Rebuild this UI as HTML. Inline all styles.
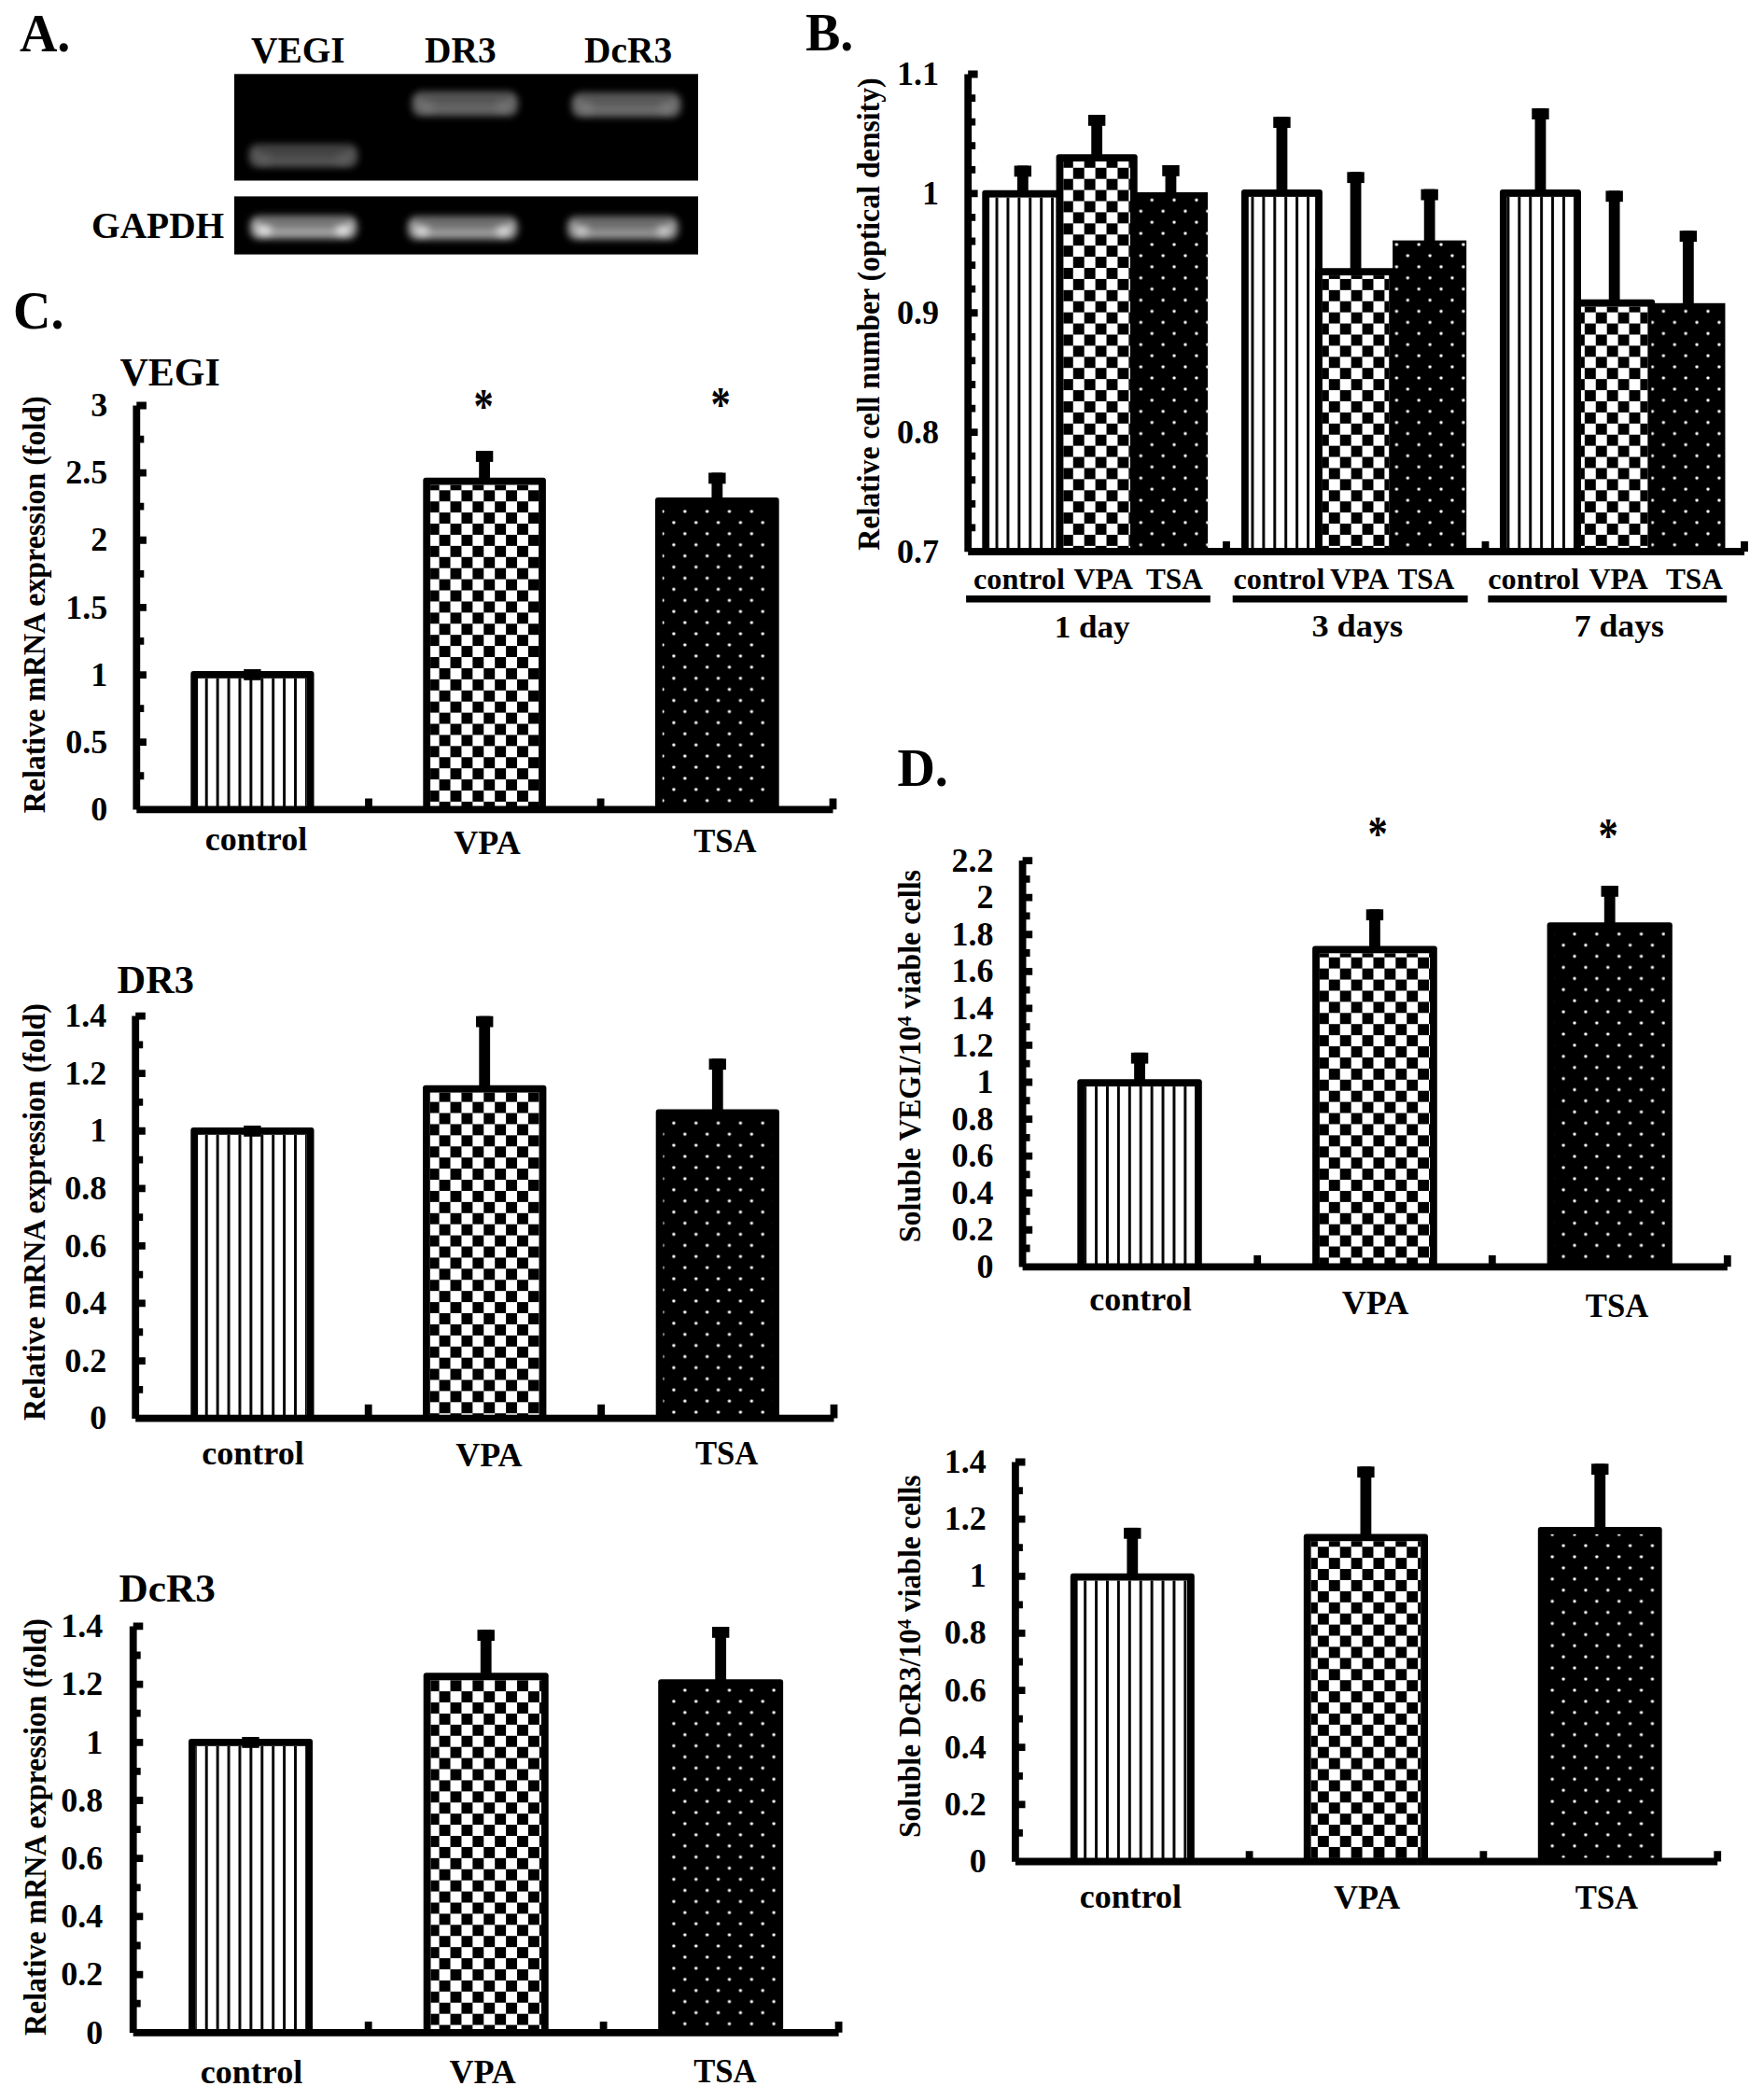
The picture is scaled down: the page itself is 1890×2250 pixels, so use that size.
<!DOCTYPE html>
<html lang="en"><head><meta charset="utf-8"><title>Figure</title>
<style>html,body{margin:0;padding:0;background:#fff}svg{display:block}text{font-family:"Liberation Serif","Times New Roman",serif;font-weight:bold;fill:#000}</style></head><body>
<svg width="1890" height="2250" viewBox="0 0 1890 2250">
<defs>
<pattern id="ps" patternUnits="userSpaceOnUse" x="5.38" y="0" width="11.91" height="40"><rect x="0" y="0" width="2.9" height="40" fill="#000"/></pattern>
<pattern id="ps3" patternUnits="userSpaceOnUse" x="5.93" y="0" width="11.91" height="40"><rect x="0" y="0" width="2.9" height="40" fill="#000"/></pattern>
<pattern id="ps2" patternUnits="userSpaceOnUse" x="6.58" y="0" width="11.91" height="40"><rect x="0" y="0" width="2.9" height="40" fill="#000"/></pattern>
<pattern id="pc" patternUnits="userSpaceOnUse" x="5.93" y="1.04" width="23.83" height="23.83"><rect x="11.91" y="0" width="11.91" height="11.91" fill="#000"/><rect x="0" y="11.91" width="11.91" height="11.91" fill="#000"/></pattern>
<pattern id="pd" patternUnits="userSpaceOnUse" x="1.04" y="5.84" width="23.83" height="23.83"><rect x="4.46" y="4.46" width="3" height="3" rx="0.7" fill="#fff"/><rect x="16.37" y="16.37" width="3" height="3" rx="0.7" fill="#fff"/></pattern>
<filter id="b3" x="-20%" y="-80%" width="140%" height="260%"><feGaussianBlur stdDeviation="3.5"/></filter>
<filter id="b5" x="-30%" y="-100%" width="160%" height="300%"><feGaussianBlur stdDeviation="4"/></filter>
</defs>
<rect width="1890" height="2250" fill="#fff"/>
<text x="20.9" y="55.1" font-size="56">A.</text>
<text x="269" y="66.9" font-size="39.4">VEGI</text>
<text x="455" y="66.9" font-size="39.4">DR3</text>
<text x="626" y="66.9" font-size="39.4">DcR3</text>
<text x="98" y="255.1" font-size="39.4">GAPDH</text>
<rect x="251" y="79.3" width="497" height="114.2" fill="#000"/>
<rect x="251" y="210.4" width="497" height="62.2" fill="#000"/>
<g filter="url(#b3)">
<rect x="266" y="154" width="118" height="26" rx="10.4" fill="#424242"/>
<path d="M274 163Q274 172 289 172H361Q376 172 376 163" fill="none" stroke="#565656" stroke-width="7" stroke-linecap="round"/>
</g><g filter="url(#b5)">
<ellipse cx="282" cy="170" rx="8" ry="4.5" fill="#5e5e5e"/>
<ellipse cx="368" cy="170" rx="8" ry="4.5" fill="#5e5e5e"/>
</g>
<g filter="url(#b3)">
<rect x="441" y="97.8" width="114.5" height="27" rx="10.8" fill="#545454"/>
<path d="M449 107.3Q449 116.3 464 116.3H532.5Q547.5 116.3 547.5 107.3" fill="none" stroke="#6a6a6a" stroke-width="7" stroke-linecap="round"/>
</g><g filter="url(#b5)">
<ellipse cx="457" cy="114.3" rx="8" ry="4.5" fill="#767676"/>
<ellipse cx="539.5" cy="114.3" rx="8" ry="4.5" fill="#767676"/>
</g>
<g filter="url(#b3)">
<rect x="612" y="99" width="118" height="27" rx="10.8" fill="#585858"/>
<path d="M620 108.5Q620 117.5 635 117.5H707Q722 117.5 722 108.5" fill="none" stroke="#6e6e6e" stroke-width="7" stroke-linecap="round"/>
</g><g filter="url(#b5)">
<ellipse cx="628" cy="115.5" rx="8" ry="4.5" fill="#7c7c7c"/>
<ellipse cx="714" cy="115.5" rx="8" ry="4.5" fill="#7c7c7c"/>
</g>
<g filter="url(#b3)">
<rect x="267" y="230.7" width="116.5" height="26" rx="10.4" fill="#767676"/>
<path d="M275 239.7Q275 248.7 290 248.7H360.5Q375.5 248.7 375.5 239.7" fill="none" stroke="#a8a8a8" stroke-width="7" stroke-linecap="round"/>
</g><g filter="url(#b5)">
<ellipse cx="283" cy="246.7" rx="8" ry="4.5" fill="#f4f4f4"/>
<ellipse cx="367.5" cy="246.7" rx="8" ry="4.5" fill="#f4f4f4"/>
</g>
<g filter="url(#b3)">
<rect x="436" y="231.5" width="119.5" height="26" rx="10.4" fill="#707070"/>
<path d="M444 240.5Q444 249.5 459 249.5H532.5Q547.5 249.5 547.5 240.5" fill="none" stroke="#a0a0a0" stroke-width="7" stroke-linecap="round"/>
</g><g filter="url(#b5)">
<ellipse cx="452" cy="247.5" rx="8" ry="4.5" fill="#e8e8e8"/>
<ellipse cx="539.5" cy="247.5" rx="8" ry="4.5" fill="#e8e8e8"/>
</g>
<g filter="url(#b3)">
<rect x="607" y="231.5" width="120.5" height="26" rx="10.4" fill="#6c6c6c"/>
<path d="M615 240.5Q615 249.5 630 249.5H704.5Q719.5 249.5 719.5 240.5" fill="none" stroke="#989898" stroke-width="7" stroke-linecap="round"/>
</g><g filter="url(#b5)">
<ellipse cx="623" cy="247.5" rx="8" ry="4.5" fill="#d4d4d4"/>
<ellipse cx="711.5" cy="247.5" rx="8" ry="4.5" fill="#d4d4d4"/>
</g>
<text x="14.1" y="352.2" font-size="56">C.</text>
<rect x="204.3" y="719" width="132.2" height="148.3" rx="3" fill="#000"/>
<rect x="212.1" y="726.8" width="116.6" height="140.5" fill="#fff"/>
<rect x="212.1" y="726.8" width="116.6" height="140.5" fill="url(#ps)"/>
<rect x="261.2" y="717" width="18.4" height="11.8" fill="#000"/>
<rect x="264.5" y="717" width="11.8" height="4" fill="#000"/>
<rect x="453.3" y="511.7" width="131.6" height="355.6" rx="3" fill="#000"/>
<rect x="461.1" y="519.5" width="116" height="347.8" fill="#fff"/>
<rect x="461.1" y="519.5" width="116" height="347.8" fill="url(#pc)"/>
<rect x="509.9" y="483.1" width="18.4" height="11.8" fill="#000"/>
<rect x="513.2" y="483.1" width="11.8" height="30.6" fill="#000"/>
<rect x="702" y="533.1" width="132.7" height="334.2" rx="3" fill="#000"/>
<rect x="709.8" y="540.9" width="117.1" height="326.4" fill="url(#pd)"/>
<rect x="759.15" y="506.5" width="18.4" height="11.8" fill="#000"/>
<rect x="762.45" y="506.5" width="11.8" height="28.6" fill="#000"/>
<path d="M146.3 434.5V867.6 M146.3 867.3H892.5" stroke="#000" stroke-width="7.8" fill="none"/>
<path d="M146.3 434.5h10.6 M146.3 470.57h8 M146.3 506.63h10.6 M146.3 542.7h8 M146.3 578.77h10.6 M146.3 614.83h8 M146.3 650.9h10.6 M146.3 686.97h8 M146.3 723.03h10.6 M146.3 759.1h8 M146.3 795.17h10.6 M146.3 831.23h8 M395 867.3v-11.7 M643.6 867.3v-11.7 M892.5 867.3v-11.7" stroke="#000" stroke-width="7.8" fill="none"/>
<text transform="translate(115.3 446.2) scale(1.03 1)" font-size="35" text-anchor="end">3</text>
<text transform="translate(115.3 518.33) scale(1.03 1)" font-size="35" text-anchor="end">2.5</text>
<text transform="translate(115.3 590.47) scale(1.03 1)" font-size="35" text-anchor="end">2</text>
<text transform="translate(115.3 662.6) scale(1.03 1)" font-size="35" text-anchor="end">1.5</text>
<text transform="translate(115.3 734.73) scale(1.03 1)" font-size="35" text-anchor="end">1</text>
<text transform="translate(115.3 806.87) scale(1.03 1)" font-size="35" text-anchor="end">0.5</text>
<text transform="translate(115.3 879) scale(1.03 1)" font-size="35" text-anchor="end">0</text>
<text x="128.5" y="413.4" font-size="42">VEGI</text>
<text transform="translate(274.5 910.8) scale(1.03 1)" font-size="35" text-anchor="middle">control</text>
<text transform="translate(522 915.4) scale(1.03 1)" font-size="35" text-anchor="middle">VPA</text>
<text transform="translate(776.9 913.4) scale(0.99 1)" font-size="35" text-anchor="middle">TSA</text>
<text transform="translate(48.3 871.3) rotate(-90) scale(1 1.04)" font-size="32" textLength="447" lengthAdjust="spacingAndGlyphs">Relative mRNA expression (fold)</text>
<text transform="translate(518 428.6) scale(1 1.23)" y="19.66" font-size="42.5" text-anchor="middle">*</text>
<text transform="translate(772 427.2) scale(1 1.23)" y="19.66" font-size="42.5" text-anchor="middle">*</text>
<rect x="204.3" y="1208" width="132.2" height="311.6" rx="3" fill="#000"/>
<rect x="212.1" y="1215.8" width="116.6" height="303.8" fill="#fff"/>
<rect x="212.1" y="1215.8" width="116.6" height="303.8" fill="url(#ps)"/>
<rect x="261.2" y="1206" width="18.4" height="11.8" fill="#000"/>
<rect x="264.5" y="1206" width="11.8" height="4" fill="#000"/>
<rect x="453" y="1162.8" width="132.4" height="356.8" rx="3" fill="#000"/>
<rect x="460.8" y="1170.6" width="116.8" height="349" fill="#fff"/>
<rect x="460.8" y="1170.6" width="116.8" height="349" fill="url(#pc)"/>
<rect x="510" y="1088.7" width="18.4" height="11.8" fill="#000"/>
<rect x="513.3" y="1088.7" width="11.8" height="76.1" fill="#000"/>
<rect x="702.7" y="1188.5" width="132.2" height="331.1" rx="3" fill="#000"/>
<rect x="710.5" y="1196.3" width="116.6" height="323.3" fill="url(#pd)"/>
<rect x="759.6" y="1134.3" width="18.4" height="11.8" fill="#000"/>
<rect x="762.9" y="1134.3" width="11.8" height="56.2" fill="#000"/>
<path d="M145.2 1088.6V1519.9 M145.2 1519.6H893.5" stroke="#000" stroke-width="7.8" fill="none"/>
<path d="M145.2 1088.6h10.6 M145.2 1119.39h8 M145.2 1150.17h10.6 M145.2 1180.96h8 M145.2 1211.74h10.6 M145.2 1242.53h8 M145.2 1273.31h10.6 M145.2 1304.1h8 M145.2 1334.89h10.6 M145.2 1365.67h8 M145.2 1396.46h10.6 M145.2 1427.24h8 M145.2 1458.03h10.6 M145.2 1488.81h8 M394.7 1519.6v-14.8 M644.1 1519.6v-14.8 M893.5 1519.6v-14.8" stroke="#000" stroke-width="7.8" fill="none"/>
<text transform="translate(114.2 1100.3) scale(1.03 1)" font-size="35" text-anchor="end">1.4</text>
<text transform="translate(114.2 1161.87) scale(1.03 1)" font-size="35" text-anchor="end">1.2</text>
<text transform="translate(114.2 1223.44) scale(1.03 1)" font-size="35" text-anchor="end">1</text>
<text transform="translate(114.2 1285.01) scale(1.03 1)" font-size="35" text-anchor="end">0.8</text>
<text transform="translate(114.2 1346.59) scale(1.03 1)" font-size="35" text-anchor="end">0.6</text>
<text transform="translate(114.2 1408.16) scale(1.03 1)" font-size="35" text-anchor="end">0.4</text>
<text transform="translate(114.2 1469.73) scale(1.03 1)" font-size="35" text-anchor="end">0.2</text>
<text transform="translate(114.2 1531.3) scale(1.03 1)" font-size="35" text-anchor="end">0</text>
<text transform="translate(125.5 1063.6) scale(1.01 1)" font-size="42">DR3</text>
<text transform="translate(271 1568.8) scale(1.03 1)" font-size="35" text-anchor="middle">control</text>
<text transform="translate(523.9 1570.6) scale(1.03 1)" font-size="35" text-anchor="middle">VPA</text>
<text transform="translate(778.6 1569.4) scale(0.99 1)" font-size="35" text-anchor="middle">TSA</text>
<text transform="translate(48.3 1522) rotate(-90) scale(1 1.04)" font-size="32" textLength="447" lengthAdjust="spacingAndGlyphs">Relative mRNA expression (fold)</text>
<rect x="202" y="1863" width="133" height="314.8" rx="3" fill="#000"/>
<rect x="209.8" y="1870.8" width="117.4" height="307" fill="#fff"/>
<rect x="209.8" y="1870.8" width="117.4" height="307" fill="url(#ps)"/>
<rect x="259.3" y="1861" width="18.4" height="11.8" fill="#000"/>
<rect x="262.6" y="1861" width="11.8" height="4" fill="#000"/>
<rect x="453.7" y="1792.3" width="134" height="385.5" rx="3" fill="#000"/>
<rect x="461.5" y="1800.1" width="118.4" height="377.7" fill="#fff"/>
<rect x="461.5" y="1800.1" width="118.4" height="377.7" fill="url(#pc)"/>
<rect x="511.5" y="1746.2" width="18.4" height="11.8" fill="#000"/>
<rect x="514.8" y="1746.2" width="11.8" height="48.1" fill="#000"/>
<rect x="705.2" y="1799.3" width="133.9" height="378.5" rx="3" fill="#000"/>
<rect x="713" y="1807.1" width="118.3" height="370.7" fill="url(#pd)"/>
<rect x="762.95" y="1743" width="18.4" height="11.8" fill="#000"/>
<rect x="766.25" y="1743" width="11.8" height="58.3" fill="#000"/>
<path d="M142.7 1742.4V2178.1 M142.7 2177.8H898.6" stroke="#000" stroke-width="7.8" fill="none"/>
<path d="M142.7 1742.4h10.6 M142.7 1773.5h8 M142.7 1804.6h10.6 M142.7 1835.7h8 M142.7 1866.8h10.6 M142.7 1897.9h8 M142.7 1929h10.6 M142.7 1960.1h8 M142.7 1991.2h10.6 M142.7 2022.3h8 M142.7 2053.4h10.6 M142.7 2084.5h8 M142.7 2115.6h10.6 M142.7 2146.7h8 M394.7 2177.8v-11.7 M646.6 2177.8v-11.7 M898.6 2177.8v-11.7" stroke="#000" stroke-width="7.8" fill="none"/>
<text transform="translate(110.2 1754.1) scale(1.03 1)" font-size="35" text-anchor="end">1.4</text>
<text transform="translate(110.2 1816.3) scale(1.03 1)" font-size="35" text-anchor="end">1.2</text>
<text transform="translate(110.2 1878.5) scale(1.03 1)" font-size="35" text-anchor="end">1</text>
<text transform="translate(110.2 1940.7) scale(1.03 1)" font-size="35" text-anchor="end">0.8</text>
<text transform="translate(110.2 2002.9) scale(1.03 1)" font-size="35" text-anchor="end">0.6</text>
<text transform="translate(110.2 2065.1) scale(1.03 1)" font-size="35" text-anchor="end">0.4</text>
<text transform="translate(110.2 2127.3) scale(1.03 1)" font-size="35" text-anchor="end">0.2</text>
<text transform="translate(110.2 2189.5) scale(1.03 1)" font-size="35" text-anchor="end">0</text>
<text transform="translate(127.5 1716.4) scale(1.03 1)" font-size="42">DcR3</text>
<text transform="translate(269.5 2232) scale(1.03 1)" font-size="35" text-anchor="middle">control</text>
<text transform="translate(517.2 2232) scale(1.03 1)" font-size="35" text-anchor="middle">VPA</text>
<text transform="translate(776.9 2230.8) scale(0.99 1)" font-size="35" text-anchor="middle">TSA</text>
<text transform="translate(48.6 2181) rotate(-90) scale(1 1.04)" font-size="32" textLength="447" lengthAdjust="spacingAndGlyphs">Relative mRNA expression (fold)</text>
<text x="863" y="53.5" font-size="56">B.</text>
<rect x="1086.65" y="177.5" width="18.4" height="11.8" fill="#000"/>
<rect x="1089.95" y="177.5" width="11.8" height="28.3" fill="#000"/>
<rect x="1052.3" y="203.8" width="87.1" height="387.2" rx="3" fill="#000"/>
<rect x="1060.1" y="211.6" width="71.5" height="379.4" fill="#fff"/>
<rect x="1060.1" y="211.6" width="71.5" height="379.4" fill="url(#ps2)"/>
<rect x="1165.95" y="123" width="18.4" height="11.8" fill="#000"/>
<rect x="1169.25" y="123" width="11.8" height="44.2" fill="#000"/>
<rect x="1131.6" y="165.2" width="87.1" height="425.8" rx="3" fill="#000"/>
<rect x="1139.4" y="173" width="71.5" height="418" fill="#fff"/>
<rect x="1139.4" y="173" width="71.5" height="418" fill="url(#pc)"/>
<rect x="1245.25" y="177" width="18.4" height="11.8" fill="#000"/>
<rect x="1248.55" y="177" width="11.8" height="31" fill="#000"/>
<rect x="1214.8" y="206" width="79.3" height="385" fill="#000"/>
<rect x="1214.8" y="206" width="79.3" height="385" fill="url(#pd)"/>
<rect x="1364.25" y="125.2" width="18.4" height="11.8" fill="#000"/>
<rect x="1367.55" y="125.2" width="11.8" height="79.9" fill="#000"/>
<rect x="1330" y="203.1" width="86.9" height="387.9" rx="3" fill="#000"/>
<rect x="1337.8" y="210.9" width="71.3" height="380.1" fill="#fff"/>
<rect x="1337.8" y="210.9" width="71.3" height="380.1" fill="url(#ps2)"/>
<rect x="1443.35" y="184.3" width="18.4" height="11.8" fill="#000"/>
<rect x="1446.65" y="184.3" width="11.8" height="105" fill="#000"/>
<rect x="1409.1" y="287.3" width="86.9" height="303.7" rx="3" fill="#000"/>
<rect x="1416.9" y="295.1" width="71.3" height="295.9" fill="#fff"/>
<rect x="1416.9" y="295.1" width="71.3" height="295.9" fill="url(#pc)"/>
<rect x="1522.45" y="202.7" width="18.4" height="11.8" fill="#000"/>
<rect x="1525.75" y="202.7" width="11.8" height="56.9" fill="#000"/>
<rect x="1492.1" y="257.6" width="79.1" height="333.4" fill="#000"/>
<rect x="1492.1" y="257.6" width="79.1" height="333.4" fill="url(#pd)"/>
<rect x="1641.25" y="116.1" width="18.4" height="11.8" fill="#000"/>
<rect x="1644.55" y="116.1" width="11.8" height="89" fill="#000"/>
<rect x="1606.95" y="203.1" width="87" height="387.9" rx="3" fill="#000"/>
<rect x="1614.75" y="210.9" width="71.4" height="380.1" fill="#fff"/>
<rect x="1614.75" y="210.9" width="71.4" height="380.1" fill="url(#ps2)"/>
<rect x="1720.45" y="204.4" width="18.4" height="11.8" fill="#000"/>
<rect x="1723.75" y="204.4" width="11.8" height="118.4" fill="#000"/>
<rect x="1686.15" y="320.8" width="87" height="270.2" rx="3" fill="#000"/>
<rect x="1693.95" y="328.6" width="71.4" height="262.4" fill="#fff"/>
<rect x="1693.95" y="328.6" width="71.4" height="262.4" fill="url(#pc)"/>
<rect x="1799.65" y="247.2" width="18.4" height="11.8" fill="#000"/>
<rect x="1802.95" y="247.2" width="11.8" height="79.6" fill="#000"/>
<rect x="1769.25" y="324.8" width="79.2" height="266.2" fill="#000"/>
<rect x="1769.25" y="324.8" width="79.2" height="266.2" fill="url(#pd)"/>
<path d="M1037.2 79.5V591.3 M1037.2 591H1869" stroke="#000" stroke-width="7.8" fill="none"/>
<path d="M1037.2 79.5h10.4 M1037.2 105.08h8 M1037.2 130.65h8 M1037.2 156.22h8 M1037.2 181.8h8 M1037.2 207.38h10.4 M1037.2 232.95h8 M1037.2 258.52h8 M1037.2 284.1h8 M1037.2 309.68h8 M1037.2 335.25h10.4 M1037.2 360.82h8 M1037.2 386.4h8 M1037.2 411.98h8 M1037.2 437.55h8 M1037.2 463.12h10.4 M1037.2 488.7h8 M1037.2 514.27h8 M1037.2 539.85h8 M1037.2 565.42h8 M1314 591v-11 M1591.5 591v-11 M1869 591v-11" stroke="#000" stroke-width="7.8" fill="none"/>
<text transform="translate(1006 91.2) scale(1.03 1)" font-size="35" text-anchor="end">1.1</text>
<text transform="translate(1006 219.07) scale(1.03 1)" font-size="35" text-anchor="end">1</text>
<text transform="translate(1006 346.95) scale(1.03 1)" font-size="35" text-anchor="end">0.9</text>
<text transform="translate(1006 474.82) scale(1.03 1)" font-size="35" text-anchor="end">0.8</text>
<text transform="translate(1006 602.7) scale(1.03 1)" font-size="35" text-anchor="end">0.7</text>
<text transform="translate(941.5 589.7) rotate(-90) scale(1 1.04)" font-size="32" textLength="506.4" lengthAdjust="spacingAndGlyphs">Relative cell number (optical density)</text>
<text transform="translate(1043 631.2) scale(1.03 1)" font-size="31.3">control</text>
<text transform="translate(1150.5 631.2) scale(1.02 1)" font-size="31.3">VPA</text>
<text x="1228" y="631.2" font-size="31.3">TSA</text>
<text transform="translate(1321.5 631.2) scale(1.03 1)" font-size="31.3">control</text>
<text transform="translate(1425 631.2) scale(1.02 1)" font-size="31.3">VPA</text>
<text x="1497.5" y="631.2" font-size="31.3">TSA</text>
<text transform="translate(1594.3 631.2) scale(1.03 1)" font-size="31.3">control</text>
<text transform="translate(1702.5 631.2) scale(1.02 1)" font-size="31.3">VPA</text>
<text x="1785" y="631.2" font-size="31.3">TSA</text>
<rect x="1035.1" y="638" width="261.7" height="7.5" fill="#000"/>
<rect x="1320.7" y="638" width="251.9" height="7.5" fill="#000"/>
<rect x="1594.3" y="638" width="255.9" height="7.5" fill="#000"/>
<text transform="translate(1170.1 682.9) scale(1.05 1)" font-size="33.4" text-anchor="middle">1 day</text>
<text transform="translate(1454.3 682) scale(1.1 1)" font-size="33" text-anchor="middle">3 days</text>
<text transform="translate(1734.8 681.6) scale(1.08 1)" font-size="33" text-anchor="middle">7 days</text>
<text x="961.4" y="841.8" font-size="56">D.</text>
<rect x="1154.3" y="1156.3" width="133.5" height="201" rx="3" fill="#000"/>
<rect x="1162.1" y="1164.1" width="117.9" height="193.2" fill="#fff"/>
<rect x="1162.1" y="1164.1" width="117.9" height="193.2" fill="url(#ps3)"/>
<rect x="1211.85" y="1127.8" width="18.4" height="11.8" fill="#000"/>
<rect x="1215.15" y="1127.8" width="11.8" height="30.5" fill="#000"/>
<rect x="1406.1" y="1013.5" width="133.7" height="343.8" rx="3" fill="#000"/>
<rect x="1413.9" y="1021.3" width="118.1" height="336" fill="#fff"/>
<rect x="1413.9" y="1021.3" width="118.1" height="336" fill="url(#pc)"/>
<rect x="1463.75" y="974.3" width="18.4" height="11.8" fill="#000"/>
<rect x="1467.05" y="974.3" width="11.8" height="41.2" fill="#000"/>
<rect x="1657.6" y="988.2" width="134.2" height="369.1" rx="3" fill="#000"/>
<rect x="1665.4" y="996" width="118.6" height="361.3" fill="url(#pd)"/>
<rect x="1715.5" y="949" width="18.4" height="11.8" fill="#000"/>
<rect x="1718.8" y="949" width="11.8" height="41.2" fill="#000"/>
<path d="M1095.6 922.1V1357.6 M1095.6 1357.3H1850.8" stroke="#000" stroke-width="7.8" fill="none"/>
<path d="M1095.6 922.1h10.6 M1095.6 941.88h8 M1095.6 961.66h10.6 M1095.6 981.45h8 M1095.6 1001.23h10.6 M1095.6 1021.01h8 M1095.6 1040.79h10.6 M1095.6 1060.57h8 M1095.6 1080.35h10.6 M1095.6 1100.14h8 M1095.6 1119.92h10.6 M1095.6 1139.7h8 M1095.6 1159.48h10.6 M1095.6 1179.26h8 M1095.6 1199.05h10.6 M1095.6 1218.83h8 M1095.6 1238.61h10.6 M1095.6 1258.39h8 M1095.6 1278.17h10.6 M1095.6 1297.95h8 M1095.6 1317.74h10.6 M1095.6 1337.52h8 M1347.2 1357.3v-12.3 M1598.8 1357.3v-12.3 M1850.8 1357.3v-12.3" stroke="#000" stroke-width="7.8" fill="none"/>
<text transform="translate(1064.5 933.8) scale(1.03 1)" font-size="35" text-anchor="end">2.2</text>
<text transform="translate(1064.5 973.36) scale(1.03 1)" font-size="35" text-anchor="end">2</text>
<text transform="translate(1064.5 1012.93) scale(1.03 1)" font-size="35" text-anchor="end">1.8</text>
<text transform="translate(1064.5 1052.49) scale(1.03 1)" font-size="35" text-anchor="end">1.6</text>
<text transform="translate(1064.5 1092.05) scale(1.03 1)" font-size="35" text-anchor="end">1.4</text>
<text transform="translate(1064.5 1131.62) scale(1.03 1)" font-size="35" text-anchor="end">1.2</text>
<text transform="translate(1064.5 1171.18) scale(1.03 1)" font-size="35" text-anchor="end">1</text>
<text transform="translate(1064.5 1210.75) scale(1.03 1)" font-size="35" text-anchor="end">0.8</text>
<text transform="translate(1064.5 1250.31) scale(1.03 1)" font-size="35" text-anchor="end">0.6</text>
<text transform="translate(1064.5 1289.87) scale(1.03 1)" font-size="35" text-anchor="end">0.4</text>
<text transform="translate(1064.5 1329.44) scale(1.03 1)" font-size="35" text-anchor="end">0.2</text>
<text transform="translate(1064.5 1369) scale(1.03 1)" font-size="35" text-anchor="end">0</text>
<text transform="translate(986 1331.3) rotate(-90) scale(1 1.04)" font-size="32" textLength="399.4" lengthAdjust="spacingAndGlyphs">Soluble VEGI/10<tspan font-size="21" dy="-9.6">4</tspan><tspan dy="9.6"> viable cells</tspan></text>
<text transform="translate(1222 1403.9) scale(1.03 1)" font-size="35" text-anchor="middle">control</text>
<text transform="translate(1473.5 1408.4) scale(1.03 1)" font-size="35" text-anchor="middle">VPA</text>
<text transform="translate(1732.5 1410.6) scale(0.99 1)" font-size="35" text-anchor="middle">TSA</text>
<text transform="translate(1476 887) scale(1 1.23)" y="19.66" font-size="42.5" text-anchor="middle">*</text>
<text transform="translate(1723 889) scale(1 1.23)" y="19.66" font-size="42.5" text-anchor="middle">*</text>
<rect x="1146.8" y="1685.7" width="133" height="308.8" rx="3" fill="#000"/>
<rect x="1154.6" y="1693.5" width="117.4" height="301" fill="#fff"/>
<rect x="1154.6" y="1693.5" width="117.4" height="301" fill="url(#ps3)"/>
<rect x="1204.1" y="1636.9" width="18.4" height="11.8" fill="#000"/>
<rect x="1207.4" y="1636.9" width="11.8" height="50.8" fill="#000"/>
<rect x="1396.8" y="1643.4" width="133.2" height="351.1" rx="3" fill="#000"/>
<rect x="1404.6" y="1651.2" width="117.6" height="343.3" fill="#fff"/>
<rect x="1404.6" y="1651.2" width="117.6" height="343.3" fill="url(#pc)"/>
<rect x="1454.2" y="1571.3" width="18.4" height="11.8" fill="#000"/>
<rect x="1457.5" y="1571.3" width="11.8" height="74.1" fill="#000"/>
<rect x="1647.8" y="1636.1" width="132.9" height="358.4" rx="3" fill="#000"/>
<rect x="1655.6" y="1643.9" width="117.3" height="350.6" fill="url(#pd)"/>
<rect x="1705.05" y="1568.3" width="18.4" height="11.8" fill="#000"/>
<rect x="1708.35" y="1568.3" width="11.8" height="69.8" fill="#000"/>
<path d="M1087.9 1566.5V1994.8 M1087.9 1994.5H1840.2" stroke="#000" stroke-width="7.8" fill="none"/>
<path d="M1087.9 1566.5h10.6 M1087.9 1597.07h8 M1087.9 1627.64h10.6 M1087.9 1658.21h8 M1087.9 1688.79h10.6 M1087.9 1719.36h8 M1087.9 1749.93h10.6 M1087.9 1780.5h8 M1087.9 1811.07h10.6 M1087.9 1841.64h8 M1087.9 1872.21h10.6 M1087.9 1902.79h8 M1087.9 1933.36h10.6 M1087.9 1963.93h8 M1338.6 1994.5v-11.2 M1589.4 1994.5v-11.2 M1840.2 1994.5v-11.2" stroke="#000" stroke-width="7.8" fill="none"/>
<text transform="translate(1056.8 1578) scale(1.03 1)" font-size="35" text-anchor="end">1.4</text>
<text transform="translate(1056.8 1639.14) scale(1.03 1)" font-size="35" text-anchor="end">1.2</text>
<text transform="translate(1056.8 1700.29) scale(1.03 1)" font-size="35" text-anchor="end">1</text>
<text transform="translate(1056.8 1761.43) scale(1.03 1)" font-size="35" text-anchor="end">0.8</text>
<text transform="translate(1056.8 1822.57) scale(1.03 1)" font-size="35" text-anchor="end">0.6</text>
<text transform="translate(1056.8 1883.71) scale(1.03 1)" font-size="35" text-anchor="end">0.4</text>
<text transform="translate(1056.8 1944.86) scale(1.03 1)" font-size="35" text-anchor="end">0.2</text>
<text transform="translate(1056.8 2006) scale(1.03 1)" font-size="35" text-anchor="end">0</text>
<text transform="translate(986 1969) rotate(-90) scale(1 1.04)" font-size="32" textLength="388.5" lengthAdjust="spacingAndGlyphs">Soluble DcR3/10<tspan font-size="21" dy="-9.6">4</tspan><tspan dy="9.6"> viable cells</tspan></text>
<text transform="translate(1211.4 2043.9) scale(1.03 1)" font-size="35" text-anchor="middle">control</text>
<text transform="translate(1464.7 2045.4) scale(1.03 1)" font-size="35" text-anchor="middle">VPA</text>
<text transform="translate(1721.4 2045.4) scale(0.99 1)" font-size="35" text-anchor="middle">TSA</text>
</svg></body></html>
